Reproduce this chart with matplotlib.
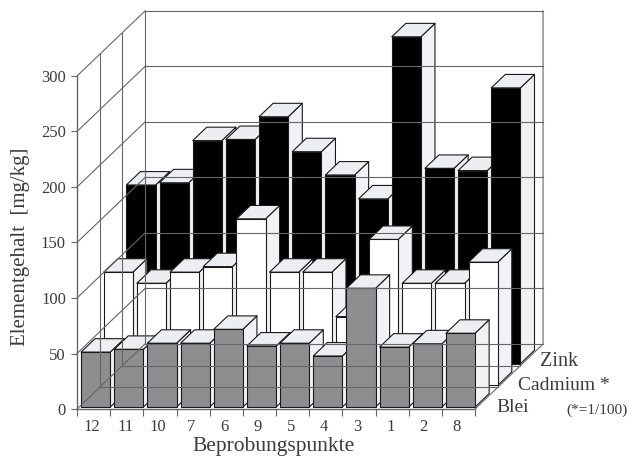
#!/usr/bin/env python3
"""Elementgehalt je Beprobungspunkt als Saeulen mit Schraegprojektion."""
import matplotlib
matplotlib.use("Agg")
import matplotlib.pyplot as plt
from matplotlib.patches import Polygon

plt.rcParams["font.family"] = ["Liberation Serif", "DejaVu Serif"]

points = ["12", "11", "10", "7", "6", "9", "5", "4", "3", "1", "2", "8"]
blei = [49.5, 52, 57.5, 57.5, 70, 55, 57.5, 46, 107, 54, 57, 66.5]
cadmium = [102, 92, 102, 107, 150, 102, 102, 62, 131.5, 92, 92, 111]
zink = [161, 163, 201, 202, 222.5, 191, 170, 148.5, 294.5, 176, 174, 248.5]
y_ticks = [0, 50, 100, 150, 200, 250, 300]

# pixels per data unit, depth shift per row in data units
PX_X = 33.17
PX_Y = 1.11
ROW_DX = 22.67 / PX_X
ROW_DY = 21.67 / PX_Y
GRID = "#666666"
TEXT = "#3c3c3c"


def shift(x, y, depth):
    return x + depth * ROW_DX, y + depth * ROW_DY


def draw_bar(ax, i, row, value, face):
    x0, x1 = i + 0.06, i + 0.94
    d0, d1 = row + 0.09, row + 0.71
    corners = {
        "front": [shift(x0, 0, d0), shift(x1, 0, d0), shift(x1, value, d0), shift(x0, value, d0)],
        "side": [shift(x1, 0, d0), shift(x1, 0, d1), shift(x1, value, d1), shift(x1, value, d0)],
        "top": [shift(x0, value, d0), shift(x1, value, d0), shift(x1, value, d1), shift(x0, value, d1)],
    }
    colors = {"front": face, "side": "#f0f2f6", "top": "#eceef2"}
    for name in ["side", "top", "front"]:
        ax.add_patch(Polygon(corners[name], closed=True, facecolor=colors[name],
                             edgecolor="#1a1a1a", linewidth=0.8, joinstyle="round"))


fig = plt.figure(figsize=(6.29, 4.57), dpi=100)
ax = fig.add_axes([0, 0, 1, 1])
ax.set_xlim(-77 / PX_X, (629 - 77) / PX_X)
ax.set_ylim(-(457 - 409) / PX_Y, 409 / PX_Y)
ax.patch.set_alpha(0)

n = len(points)

# walls and floor
for v in y_ticks[1:]:
    x_a, y_a = shift(0, v, 3)
    ax.plot([0, x_a], [v, y_a], color=GRID, lw=0.8)
    x_b, _ = shift(n, v, 3)
    ax.plot([x_a, x_b], [y_a, y_a], color=GRID, lw=0.8)
for d in [1, 2, 3]:
    x_a, y_a = shift(0, 0, d)
    x_b, y_b = shift(0, 300, d)
    ax.plot([x_a, x_b], [y_a, y_b], color=GRID, lw=0.8)
    x_c, _ = shift(n, 0, d)
    ax.plot([x_a, x_c], [y_a, y_a], color=GRID, lw=0.8)
x_a, y_a = shift(n, 0, 0)
x_b, y_b = shift(n, 0, 3)
x_c, y_c = shift(n, 300, 3)
ax.plot([x_a, x_b, x_c], [y_a, y_b, y_c], color=GRID, lw=0.8)
x_a, y_a = shift(0, 0, 0)
ax.plot([x_a, shift(0, 0, 3)[0]], [y_a, shift(0, 0, 3)[1]], color=GRID, lw=0.8)

# back row first, left to right so the nearer bar overlaps
for row, (values, face) in reversed(list(enumerate([(blei, "#8e8e90"),
                                                    (cadmium, "white"),
                                                    (zink, "black")]))):
    for i, v in enumerate(values):
        draw_bar(ax, i, row, v, face)

# axes
for name in ["top", "right"]:
    ax.spines[name].set_visible(False)
ax.spines["left"].set_position(("data", 0))
ax.spines["bottom"].set_position(("data", 0))
ax.spines["left"].set_bounds(0, 300)
ax.spines["bottom"].set_bounds(0, n)
for name in ["left", "bottom"]:
    ax.spines[name].set_color(GRID)
    ax.spines[name].set_linewidth(1.0)
ax.set_yticks(y_ticks)
ax.set_yticklabels([str(v) for v in y_ticks], fontsize=12, color=TEXT)
ax.set_xticks(range(n + 1))
ax.set_xticklabels([])
ax.set_xticks([i + 0.45 for i in range(n)], labels=points, minor=True, fontsize=12, color=TEXT)
ax.tick_params(axis="y", direction="out", length=4, width=0.8, color=GRID, pad=4)
ax.tick_params(axis="x", which="major", direction="out", length=5, width=0.8, color=GRID)
ax.tick_params(axis="x", which="minor", length=0, pad=7)

# labels in figure fractions
fig.text(21 / 629, 1 - 247 / 457, "Elementgehalt  [mg/kg]", rotation=90, fontsize=15,
         color=TEXT, ha="center", va="center")
fig.text(274 / 629, 1 - 446 / 457, "Beprobungspunkte", fontsize=15.5, color=TEXT,
         ha="center", va="center")
fig.text(540 / 629, 1 - 362 / 457, "Zink", fontsize=14.5, color=TEXT, va="center")
fig.text(518 / 629, 1 - 385 / 457, "Cadmium *", fontsize=14, color=TEXT, va="center")
fig.text(496 / 629, 1 - 407 / 457, "Blei", fontsize=14, color=TEXT, va="center")
fig.text(566 / 629, 1 - 410 / 457, "(*=1/100)", fontsize=11, color=TEXT, va="center")

fig.savefig("out.png", dpi=100)
